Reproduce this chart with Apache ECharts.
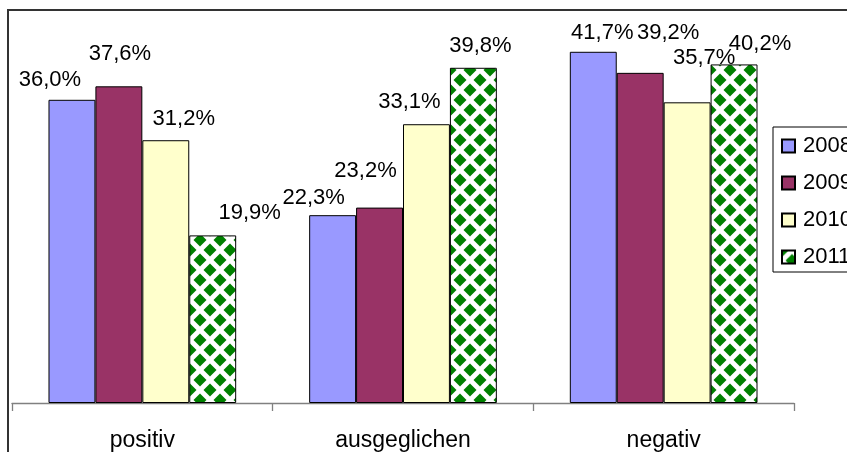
<!DOCTYPE html>
<html>
<head>
<meta charset="utf-8">
<script src="https://cdn.jsdelivr.net/npm/echarts@6/dist/echarts.min.js"></script>
<style>html,body{margin:0;padding:0;background:#fff}#c{width:847px;height:452px}</style>
</head>
<body>
<div id="c"></div>
<script>
// ---- data ----
var categories = ['positiv', 'ausgeglichen', 'negativ'];
var years = ['2008', '2009', '2010', '2011'];
var values2008 = [36.0, 22.3, 41.7];
var values2009 = [37.6, 23.2, 39.2];
var values2010 = [31.2, 33.1, 35.7];
var values2011 = [19.9, 39.8, 40.2];

// ---- layout (label nudges, per series per category) ----
var labelOffsets = [
  [[-22, -4], [-19, -1], [9, -3]],
  [[1, -16], [-14, -21], [28, -24]],
  [[18, -5], [-17, -6], [17, -28]],
  [[37, -6], [7, -6], [26, -4]]
];

function makePattern() {
  var cv = document.createElement('canvas');
  cv.width = 20; cv.height = 20;
  var ctx = cv.getContext('2d');
  ctx.fillStyle = '#ffffff';
  ctx.fillRect(0, 0, 20, 20);
  ctx.fillStyle = '#008000';
  var r = 6.5;
  [[0,0],[20,0],[0,20],[20,20],[10,10]].forEach(function (p) {
    ctx.beginPath();
    ctx.moveTo(p[0], p[1] - r);
    ctx.lineTo(p[0] + r, p[1]);
    ctx.lineTo(p[0], p[1] + r);
    ctx.lineTo(p[0] - r, p[1]);
    ctx.closePath();
    ctx.fill();
  });
  return cv;
}

var colors = ['#9999FF', '#993366', '#FFFFCC', {image: makePattern(), repeat: 'repeat'}];
var seriesValues = [values2008, values2009, values2010, values2011];

var series = years.map(function (y, i) {
  return {
    name: y,
    type: 'bar',
    barGap: '0%',
    barCategoryGap: '28%',
    itemStyle: {color: colors[i], borderColor: '#000', borderWidth: 1},
    data: seriesValues[i].map(function (v, j) {
      return {value: v, label: {offset: labelOffsets[i][j]}};
    }),
    label: {
      show: true,
      position: 'top',
      distance: 5,
      color: '#000',
      fontFamily: 'Liberation Sans',
      fontSize: 22,
      formatter: function (p) { return p.value.toFixed(1).replace('.', ',') + '%'; }
    }
  };
});

var chart = echarts.init(document.getElementById('c'), null, {renderer: 'canvas'});
chart.setOption({
  animation: false,
  textStyle: {fontFamily: 'Liberation Sans'},
  graphic: [{
    type: 'rect', z: -1,
    shape: {x: 8, y: 10, width: 1000, height: 1000},
    style: {fill: 'none', stroke: '#333', lineWidth: 2}
  }],
  grid: {left: 12, right: 53, top: 24, bottom: 49},
  legend: {
    orient: 'vertical',
    left: 773, top: 127,
    padding: [8, 8, 4, 8],
    itemGap: 15,
    itemWidth: 13, itemHeight: 13,
    icon: 'rect',
    borderColor: '#000', borderWidth: 1,
    backgroundColor: '#fff',
    textStyle: {fontSize: 22, color: '#000', fontFamily: 'Liberation Sans', padding: [0, 0, 0, 3]},
    data: years
  },
  xAxis: {
    type: 'category',
    data: categories,
    axisLine: {lineStyle: {color: '#808080', width: 1.3}},
    axisTick: {show: true, length: 8, lineStyle: {color: '#808080', width: 1.3}},
    axisLabel: {color: '#000', fontSize: 23, margin: 26, fontFamily: 'Liberation Sans'}
  },
  yAxis: {
    type: 'value', min: 0, max: 45,
    show: false,
    splitLine: {show: false}
  },
  series: series
});
</script>
</body>
</html>
